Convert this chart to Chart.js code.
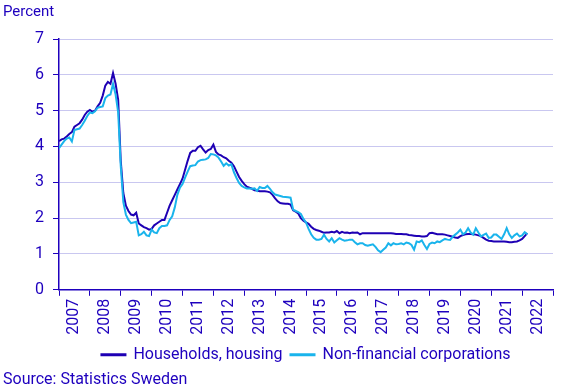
<!DOCTYPE html>
<html>
<head>
<meta charset="utf-8">
<script src="https://cdn.jsdelivr.net/npm/chart.js@4"></script>
<style>
  html, body { margin: 0; padding: 0; background: #fff; }
</style>
</head>
<body>
<canvas id="chart" width="568" height="390"></canvas>
<script>
// monthly, Jan 2007 - Mar 2022
const years = ["2007", "2008", "2009", "2010", "2011", "2012", "2013", "2014",
  "2015", "2016", "2017", "2018", "2019", "2020", "2021", "2022"];
const yTicks = [0, 1, 2, 3, 4, 5, 6, 7];

const households = [
  4.15, 4.2, 4.22, 4.28, 4.35, 4.4, 4.55, 4.6, 4.65, 4.75, 4.88, 4.97,
  5.02, 4.97, 5.0, 5.12, 5.22, 5.42, 5.7, 5.8, 5.75, 6.05, 5.75, 5.3,
  3.6, 2.7, 2.35, 2.2, 2.1, 2.08, 2.15, 1.85, 1.8, 1.75, 1.72, 1.68,
  1.7, 1.8, 1.85, 1.9, 1.95, 1.95, 2.15, 2.35, 2.5, 2.65, 2.8, 2.95,
  3.1, 3.35, 3.6, 3.82, 3.88, 3.88, 3.98, 4.02, 3.92, 3.83, 3.9, 3.93,
  4.05, 3.85, 3.78, 3.75, 3.7, 3.67, 3.6, 3.55, 3.45, 3.3, 3.15, 3.04,
  2.95, 2.88, 2.85, 2.82, 2.78, 2.77, 2.75, 2.75, 2.75, 2.74, 2.72, 2.65,
  2.55, 2.47, 2.42, 2.41, 2.4, 2.4, 2.38, 2.22, 2.18, 2.13, 2.0, 1.93,
  1.88, 1.84, 1.76, 1.7, 1.67, 1.65, 1.62, 1.59, 1.6, 1.6, 1.62, 1.6,
  1.64, 1.58, 1.62, 1.59, 1.6, 1.58, 1.6, 1.59, 1.6, 1.55, 1.58, 1.58,
  1.58, 1.58, 1.58, 1.58, 1.58, 1.58, 1.58, 1.58, 1.58, 1.58, 1.57, 1.56,
  1.56, 1.56, 1.55, 1.55, 1.53, 1.52, 1.51, 1.5, 1.5, 1.49, 1.49, 1.5,
  1.58, 1.59, 1.57, 1.55, 1.55, 1.55, 1.54, 1.52, 1.5, 1.48, 1.46, 1.45,
  1.5, 1.53, 1.55, 1.56, 1.56, 1.55, 1.54, 1.52, 1.5, 1.45, 1.4, 1.37,
  1.36, 1.35, 1.35, 1.35, 1.35, 1.35, 1.34, 1.33, 1.33, 1.34, 1.35, 1.38,
  1.42, 1.5, 1.58
];

const corporations = [
  3.95, 4.05, 4.15, 4.22, 4.25, 4.14, 4.46, 4.48, 4.5, 4.6, 4.72, 4.85,
  4.95, 4.93, 4.98, 5.08, 5.1, 5.12, 5.35, 5.42, 5.45, 5.75, 5.45, 4.95,
  3.45, 2.45, 2.1, 1.95, 1.86, 1.88, 1.9, 1.52, 1.55, 1.62, 1.52, 1.5,
  1.68, 1.6, 1.58, 1.72, 1.78, 1.78, 1.8, 1.95, 2.05, 2.3, 2.65, 2.85,
  2.95, 3.13, 3.3, 3.45, 3.47, 3.48, 3.58, 3.62, 3.63, 3.64, 3.68, 3.79,
  3.78, 3.75, 3.69, 3.58, 3.46, 3.53, 3.47, 3.5, 3.28, 3.12, 2.98, 2.9,
  2.86, 2.83, 2.83, 2.82, 2.83, 2.76, 2.87, 2.84, 2.84, 2.9, 2.82, 2.72,
  2.66, 2.64, 2.62, 2.6, 2.59, 2.58, 2.57, 2.24, 2.2, 2.17, 2.12, 1.98,
  1.88, 1.7, 1.55, 1.45, 1.4, 1.4, 1.42, 1.54, 1.42, 1.35, 1.44, 1.32,
  1.38, 1.44, 1.4, 1.37, 1.38, 1.4, 1.4, 1.33, 1.27, 1.3, 1.3, 1.25,
  1.23, 1.25, 1.27, 1.2, 1.1, 1.05, 1.12, 1.18, 1.3, 1.24, 1.3, 1.27,
  1.28, 1.3, 1.27, 1.32, 1.3, 1.25, 1.12, 1.35, 1.33, 1.38, 1.25, 1.14,
  1.28, 1.32, 1.3, 1.35, 1.33, 1.38, 1.42, 1.4, 1.39, 1.48, 1.54, 1.6,
  1.68, 1.55, 1.6, 1.72, 1.6, 1.54, 1.72, 1.6, 1.49, 1.53, 1.57, 1.45,
  1.46, 1.54, 1.54, 1.48, 1.42, 1.55, 1.72, 1.55, 1.45, 1.52, 1.57, 1.49,
  1.52, 1.61, 1.55
];

const textColor = "#1E00BE";
const darkBlue = "#1E00B4";
const lightBlue = "#1AB4EC";
const gridColor = "#C9C7F0";
const font = { family: "Roboto", size: 16 };

const toPoints = (arr) => arr.map((v, i) => ({ x: i, y: v }));

new Chart(document.getElementById("chart"), {
  type: "line",
  data: {
    datasets: [
      {
        label: "Households, housing",
        data: toPoints(households),
        borderColor: darkBlue,
        backgroundColor: darkBlue,
        borderWidth: 2,
        pointRadius: 0,
        order: 2,
      },
      {
        label: "Non-financial corporations",
        data: toPoints(corporations),
        borderColor: lightBlue,
        backgroundColor: lightBlue,
        borderWidth: 2,
        pointRadius: 0,
        order: 1, // light line drawn on top
      },
    ],
  },
  options: {
    responsive: false,
    animation: false,
    layout: { padding: { left: 3, right: 15, top: 0, bottom: 0 } },
    scales: {
      x: {
        type: "linear",
        min: 0,
        max: years.length * 12,
        afterBuildTicks: (axis) => {
          // labels sit in the middle of each year
          axis.ticks = years.map((y, i) => ({ value: i * 12 + 6 }));
        },
        afterFit: (axis) => { axis.height = 49; },
        ticks: {
          autoSkip: false,
          minRotation: 90,
          maxRotation: 90,
          padding: 3,
          color: textColor,
          font: font,
          callback: (value, index) => years[index],
        },
        grid: {
          offset: true,
          drawOnChartArea: false,
          tickLength: 6,
          tickColor: textColor,
        },
        border: { color: textColor, width: 1.5 },
      },
      y: {
        min: 0,
        max: 7,
        afterBuildTicks: (axis) => {
          axis.ticks = yTicks.map((v) => ({ value: v }));
        },
        afterFit: (axis) => { axis.width = 56; },
        ticks: { padding: 9, color: textColor, font: font },
        grid: { color: gridColor, tickColor: textColor, tickLength: 6 },
        border: { color: textColor, width: 1.5 },
      },
    },
    plugins: {
      tooltip: { enabled: false },
      title: {
        display: true,
        text: "Percent",
        align: "start",
        color: textColor,
        font: { family: "Roboto", size: 15, weight: "normal" },
        padding: { top: 3, bottom: 18 },
      },
      subtitle: {
        display: true,
        text: "Source: Statistics Sweden",
        position: "bottom",
        align: "start",
        color: textColor,
        font: font,
        padding: { top: -2, bottom: 0 },
      },
      legend: {
        position: "bottom",
        fullSize: false,
        reverse: true,
        labels: {
          color: textColor,
          font: font,
          boxWidth: 24,
          boxHeight: 1,
          padding: 8,
        },
      },
    },
  },
});
</script>
</body>
</html>
